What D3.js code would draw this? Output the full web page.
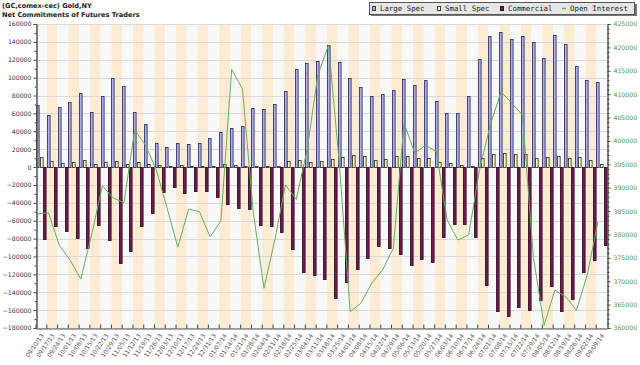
<!DOCTYPE html>
<html><head><meta charset="utf-8">
<script src="https://cdn.jsdelivr.net/npm/d3@7"></script>
<style>body{margin:0;background:#fff} svg{display:block}</style>
</head><body><svg id="c" width="640" height="365"></svg>
<script>
const dates = ["09/10/13","09/17/13","09/24/13","10/01/13","10/08/13","10/15/13","10/22/13","10/29/13","11/05/13","11/12/13","11/19/13","11/26/13","12/03/13","12/10/13","12/17/13","12/24/13","12/31/13","01/07/14","01/14/14","01/21/14","01/28/14","02/04/14","02/11/14","02/18/14","02/25/14","03/04/14","03/11/14","03/18/14","03/25/14","04/01/14","04/08/14","04/15/14","04/22/14","04/29/14","05/06/14","05/13/14","05/20/14","05/27/14","06/03/14","06/10/14","06/17/14","06/24/14","07/01/14","07/08/14","07/15/14","07/22/14","07/29/14","08/05/14","08/12/14","08/19/14","08/26/14","09/02/14","09/09/14"];
const largeSpec = [69000,58000,67000,73000,83000,62000,80000,100000,91000,62000,48000,27000,22000,27000,26000,27000,32000,39000,44000,46000,66000,65000,71000,85000,110000,116000,119000,137000,118000,100000,89000,80000,82000,86000,98000,92000,97000,74000,60000,61000,79000,121000,147000,151000,143000,147000,140000,122000,148000,138000,113000,97000,95000];
const smallSpec = [11500,7000,4500,5200,8200,3300,5600,7000,3000,5200,3300,2200,1500,2600,1500,800,1500,3300,2600,800,800,1500,1500,7000,7500,5600,7000,9300,10800,13000,12700,8200,8900,11900,12700,10500,10100,5600,4500,2600,800,10100,14500,15700,14500,14500,10100,10800,12300,10100,10800,7500,3300];
const commercial = [-80000,-66000,-71000,-79000,-91000,-65000,-82000,-107000,-94000,-66000,-51000,-28000,-22000,-29000,-27000,-26500,-33000,-41000,-46000,-47000,-65000,-66000,-73000,-92000,-117000,-121000,-125000,-146000,-128000,-114000,-102000,-88000,-91000,-97000,-110000,-103000,-106000,-78000,-63500,-63500,-78000,-132000,-161000,-166500,-157000,-160000,-149000,-132500,-161000,-148000,-117000,-104000,-87000];
const openInterest = [384400,384600,377700,374500,370500,379900,390400,387800,386800,402300,399100,393800,385700,377300,385400,384900,379500,382900,415300,411100,384800,368500,378800,390600,387500,398100,414100,420500,394900,363500,365300,369600,372400,377000,403800,397400,399100,397700,383100,378800,379900,393800,403400,410500,408100,405500,375200,360600,368100,366700,363800,371300,382700];
const leftTicks = d3.range(-180000, 160001, 20000);
const rightTicks = d3.range(360000, 425001, 5000);
const seriesNames = ["Large Spec","Small Spec","Commercial","Open Interest"];
const titleLines = ["(GC,comex-cec) Gold,NY","Net Commitments of Futures Traders"];

const m = {l:36, r:607, t:24, b:328};
const svg = d3.select("#c");
const x = d3.scaleBand().domain(dates).range([m.l, m.r]);
const bw = x.bandwidth();
const sub = d3.scaleBand().domain(["large","small","comm"]).range([0, bw]).paddingInner(0.04).paddingOuter(0.0);
const y = d3.scaleLinear().domain([-180000,160000]).range([m.b, m.t]);
const y2 = d3.scaleLinear().domain([360000,425000]).range([m.b, m.t]);
const font = "DejaVu Sans, Verdana, sans-serif";

// alternating column bands
svg.append("g").selectAll("rect").data(dates).join("rect")
  .attr("x", d=>x(d)).attr("y", m.t).attr("width", bw).attr("height", m.b-m.t)
  .attr("fill", (d,i)=> i%2 ? "#fdebd3" : "#f8f8f8");

// gridlines
svg.append("g").selectAll("line").data(leftTicks).join("line")
  .attr("x1", m.l).attr("x2", m.r)
  .attr("y1", d=>Math.round(y(d))+0.5).attr("y2", d=>Math.round(y(d))+0.5)
  .attr("stroke", "#d8d8d8").attr("stroke-width",1);

// bars
const bars = svg.append("g");
function drawBars(vals, key, fill, stroke){
  bars.append("g").selectAll("rect").data(vals).join("rect")
    .attr("x", (v,i)=> Math.round(x(dates[i]) + sub(key)) + 0.5)
    .attr("width", 2.6)
    .attr("y", v=> Math.round(y(Math.max(0,v))) + 0.5)
    .attr("height", v=> Math.max(0, Math.abs(Math.round(y(v)) - Math.round(y(0)))))
    .attr("fill", fill).attr("stroke", stroke).attr("stroke-width", 0.9);
}
drawBars(largeSpec, "large", "#b0b0e2", "#34346a");
drawBars(smallSpec, "small", "#ffffcc", "#3a3a2a");
drawBars(commercial, "comm", "#6a1f4c", "#3c0c2a");

// open interest line
const line = d3.line()
  .x((v,i)=> x(dates[i]) + sub("large") + sub.bandwidth()/2)
  .y(v=> y2(v));
svg.append("path").datum(openInterest).attr("d", line)
  .attr("fill","none").attr("stroke","#62b058").attr("stroke-width",1);

// left axis
const gL = svg.append("g").attr("transform", `translate(${m.l+0.5},0)`)
  .call(d3.axisLeft(y).tickValues(leftTicks).tickFormat(d3.format("d")).tickSize(3).tickPadding(2));
svg.append("g").attr("transform", `translate(${m.l+0.5},0)`)
  .call(d3.axisLeft(y).tickValues(d3.range(-170000,160000,20000)).tickFormat("").tickSize(2));
// right axis
const gR = svg.append("g").attr("transform", `translate(${m.r+0.5},0)`)
  .call(d3.axisRight(y2).tickValues(rightTicks).tickFormat(d3.format("d")).tickSize(3).tickPadding(3));
svg.append("g").attr("transform", `translate(${m.r+0.5},0)`)
  .call(d3.axisRight(y2).tickValues(d3.range(360000,425001,1000).filter(v=>v%5000)).tickFormat("").tickSize(2));
// bottom axis
const gB = svg.append("g").attr("transform", `translate(0,${m.b+0.5})`)
  .call(d3.axisBottom(x).tickSizeInner(-4).tickSizeOuter(0).tickFormat(""));
gB.selectAll(".tick line").attr("transform", `translate(${-bw/2},0)`);
gB.selectAll(".tick").append("text")
  .attr("transform", `translate(${1},${6}) rotate(-55)`)
  .attr("text-anchor","end").attr("dy","0.35em")
  .attr("fill","#555").style("font-size","6px").style("font-family",font)
  .text(d=>d);

svg.selectAll(".domain").attr("stroke","#555");
svg.selectAll(".tick line").attr("stroke","#444");
gL.selectAll("text").attr("fill","#333").style("font-size","6.2px").style("font-family",font);
gR.selectAll("text").attr("fill","#4c9a40").style("font-size","6.2px").style("font-family",font);

// titles
svg.append("g").selectAll("text").data(titleLines).join("text")
  .attr("x", 2).attr("y",(d,i)=> 8 + i*9)
  .attr("fill","#222").style("font-size","6.6px").style("font-weight","bold").style("font-family",font)
  .text(d=>d);

// legend
const lg = svg.append("g");
lg.append("rect").attr("x", 371).attr("y", 4).attr("width", 266).attr("height", 12).attr("fill","#777");
lg.append("rect").attr("x", 369.5).attr("y", 2.5).attr("width", 265).attr("height", 12)
  .attr("fill","#e6e6e6").attr("stroke","#555");
const legX = [372, 437, 500, 562];
const legFill = ["#b0b0e2","#ffffcc","#6a1f4c",null];
const legStroke = ["#34346a","#3a3a2a","#3c0c2a",null];
seriesNames.forEach((n,i)=>{
  if(legFill[i]) lg.append("rect").attr("x",legX[i]+0.5).attr("y",6.5).attr("width",3).attr("height",4)
    .attr("fill",legFill[i]).attr("stroke",legStroke[i]);
  else lg.append("line").attr("x1",legX[i]).attr("x2",legX[i]+4).attr("y1",8.5).attr("y2",8.5).attr("stroke","#62b058").attr("stroke-width",1.5);
  lg.append("text").attr("x", legX[i]+8).attr("y", 11).attr("fill","#222")
    .style("font-size","7.4px").style("font-family","DejaVu Sans Mono, monospace").text(n);
});
</script></body></html>
